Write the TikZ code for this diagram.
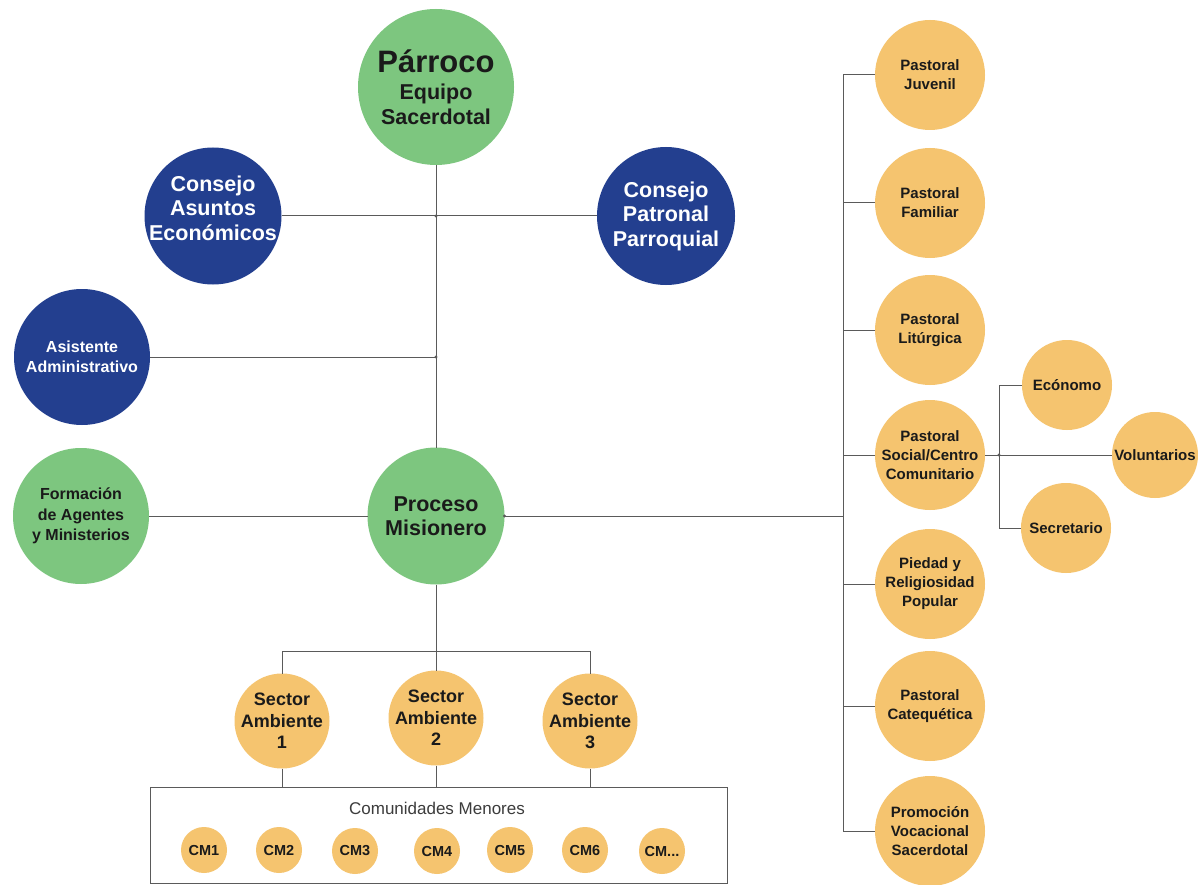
\documentclass[tikz,border=0pt]{standalone}
\usepackage{fontspec}
\setmainfont{Liberation Sans}
\definecolor{gr}{HTML}{7DC67F}
\definecolor{bl}{HTML}{233F8F}
\definecolor{og}{HTML}{F5C46F}
\definecolor{ln}{HTML}{5A5A5A}
\definecolor{tx}{HTML}{1A1A1A}
\newcommand{\bubble}[6]{%
  \node[disc, fill=#4, minimum size=#3] (#1) at (#2) {};
  \node[#5] (#1-t) at (#1) {#6};
}
\tikzset{
  disc/.style={circle, inner sep=0pt, outer sep=0pt},
  conn/.style={draw=ln, line width=1pt},
  bigtxt/.style={align=center, text=tx, inner sep=0pt, font=\bfseries\fontsize{21.5}{24.5}\selectfont},
  bigwhite/.style={bigtxt, text=white},
  midtxt/.style={align=center, text=tx, inner sep=0pt, font=\bfseries\fontsize{16}{20.5}\selectfont},
  midwhite/.style={midtxt, text=white},
  sectxt/.style={align=center, text=tx, inner sep=0pt, font=\bfseries\fontsize{18}{21.5}\selectfont},
  smalltxt/.style={align=center, text=tx, inner sep=0pt, font=\bfseries\fontsize{15}{19}\selectfont},
  cmtxt/.style={align=center, text=tx, inner sep=0pt, font=\bfseries\fontsize{14.5}{17}\selectfont},
  dot/.style={fill=ln}
}
\begin{document}
\begin{tikzpicture}[x=1pt,y=-1pt]
\useasboundingbox (0,0) rectangle (1198,885);
\fill[white] (0,0) rectangle (1198,885);

% ---- central column ----
\bubble{parroco}{436,87}{156pt}{gr}{bigtxt}{{\fontsize{31}{31}\selectfont Párroco}\\[3pt]Equipo\\Sacerdotal}
\node[disc, fill=bl, minimum size=137pt] (cae) at (213,216) {};
\node[bigwhite] (cae-t) at (213,208) {Consejo\\Asuntos\\Económicos};
\bubble{cpp}{666,216}{138pt}{bl}{bigwhite}{Consejo\\Patronal\\Parroquial}
\bubble{asis}{82,357}{136pt}{bl}{midwhite}{Asistente\\Administrativo}
\bubble{forma}{81,516}{136pt}{gr}{midtxt}{Formación\\de Agentes\\y Ministerios}
\bubble{proceso}{436,516}{137pt}{gr}{bigtxt}{Proceso\\Misionero}

% ---- sectors ----
\bubble{sec1}{282,721}{95pt}{og}{sectxt}{Sector\\Ambiente\\1}
\bubble{sec2}{436,718}{95pt}{og}{sectxt}{Sector\\Ambiente\\2}
\bubble{sec3}{590,721}{95pt}{og}{sectxt}{Sector\\Ambiente\\3}

% ---- communities box ----
\node[draw=ln, line width=1pt, minimum width=577pt, minimum height=96pt, inner sep=0pt] (box) at (438.5,835) {};
\node[text=tx!85, inner sep=0pt, font=\fontsize{17}{20}\selectfont] (boxtitle) at (437,808) {Comunidades Menores};
\bubble{cm1}{204,850}{46pt}{og}{cmtxt}{CM1}
\bubble{cm2}{279,850}{46pt}{og}{cmtxt}{CM2}
\bubble{cm3}{355,851}{46pt}{og}{cmtxt}{CM3}
\bubble{cm4}{437,851}{46pt}{og}{cmtxt}{CM4}
\bubble{cm5}{510,850}{46pt}{og}{cmtxt}{CM5}
\bubble{cm6}{585,850}{46pt}{og}{cmtxt}{CM6}
\bubble{cm7}{662,851}{46pt}{og}{cmtxt}{CM...}

% ---- pastoral column ----
\bubble{juvenil}{930,75}{110pt}{og}{smalltxt}{Pastoral\\Juvenil}
\bubble{familiar}{930,203}{110pt}{og}{smalltxt}{Pastoral\\Familiar}
\bubble{liturgica}{930,330}{110pt}{og}{smalltxt}{Pastoral\\Litúrgica}
\bubble{social}{930,455}{110pt}{og}{smalltxt}{Pastoral\\Social/Centro\\Comunitario}
\bubble{piedad}{930,584}{110pt}{og}{smalltxt}{Piedad y\\Religiosidad\\Popular}
\bubble{catequetica}{930,706}{110pt}{og}{smalltxt}{Pastoral\\Catequética}
\bubble{vocacional}{930,831}{110pt}{og}{smalltxt}{Promoción\\Vocacional\\Sacerdotal}

\bubble{economo}{1067,385}{90pt}{og}{smalltxt}{Ecónomo}
\bubble{secretario}{1066,528}{90pt}{og}{smalltxt}{Secretario}
\bubble{voluntarios}{1155,455}{86pt}{og}{smalltxt}{Voluntarios}

% ---- connectors ----
\coordinate (trunkx) at (843,0);
\coordinate (bx) at (999,0);
\coordinate (sbar) at (436,651);
\coordinate (jA) at (parroco |- asis);
\coordinate (jC) at (parroco |- cae);
\coordinate (jS) at (bx |- social);

\draw[conn] (parroco) -- (proceso);
\draw[conn] (cae) -- (cpp);
\draw[conn] (asis) -- (jA);
\draw[conn] (forma) -- (proceso);
\draw[conn] (proceso) -- (proceso -| trunkx);
\draw[conn] (juvenil) -- (juvenil -| trunkx) -- (vocacional -| trunkx) -- (vocacional);
\foreach \n in {familiar,liturgica,social,piedad,catequetica}
  \draw[conn] (\n) -- (\n -| trunkx);
\draw[conn] (social) -- (voluntarios);
\draw[conn] (economo) -- (economo -| bx) -- (secretario -| bx) -- (secretario);

\draw[conn] (proceso) -- (sec2);
\draw[conn] (sec1) -- (sec1 |- sbar) -- (sec3 |- sbar) -- (sec3);
\draw[conn] (sec1) -- (sec1 |- box.north);
\draw[conn] (sec2) -- (sec2 |- box.north);
\draw[conn] (sec3) -- (sec3 |- box.north);

% junction dots
\fill[dot] (jC) circle (1.6);
\fill[dot] (jA) circle (1.6);
\fill[dot] (proceso.east) circle (1.6);
\fill[dot] (jS) circle (1.6);
\end{tikzpicture}
\end{document}
